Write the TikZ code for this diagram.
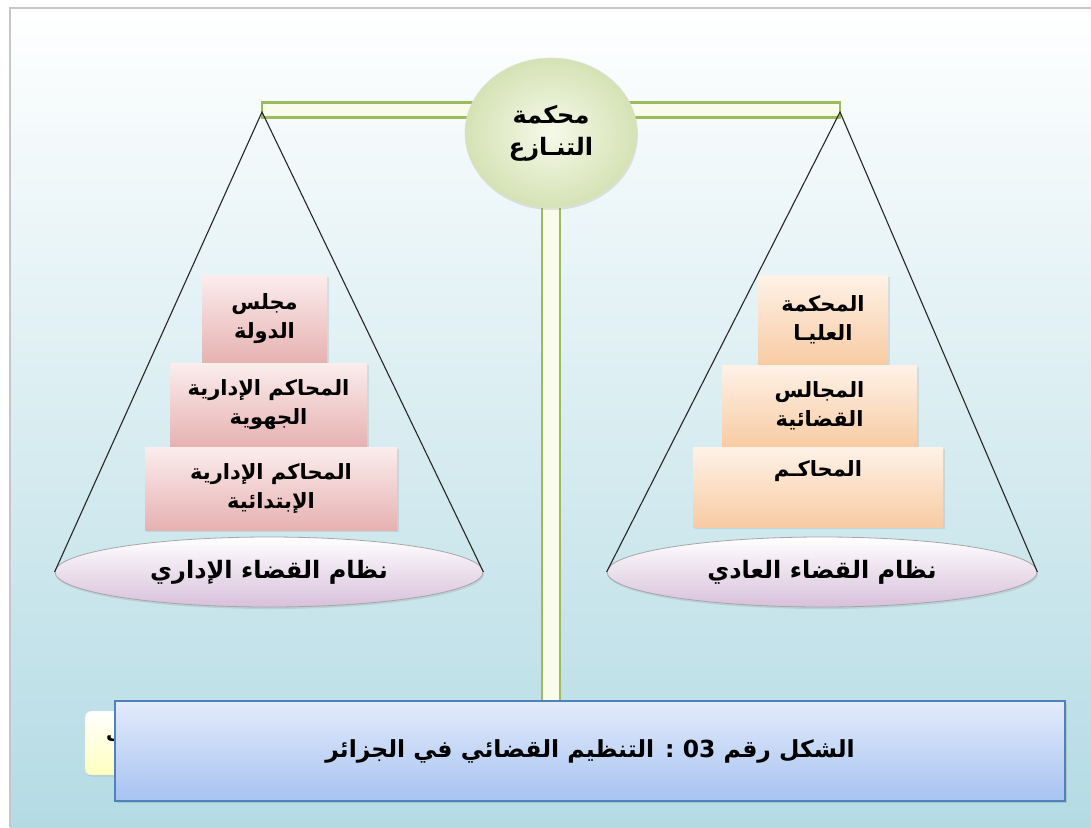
\documentclass[tikz,border=0pt]{standalone}
\usepackage{fontspec}
\usepackage{tikz}
\usetikzlibrary{shadows, shapes.geometric, positioning, calc}
\newfontfamily\arabicfont[Script=Arabic]{DejaVu Sans}
\TeXXeTstate=1
\newcommand{\artext}[1]{{\arabicfont\bfseries\beginR #1\endR}}
\definecolor{beamgreen}{HTML}{9CBB5C}
\definecolor{beamfill}{HTML}{FAFCEB}
\definecolor{skyend}{HTML}{B4DBE4}
\definecolor{skymid}{HTML}{E0F0F4}
\definecolor{rosetop}{HTML}{FBEDED}
\definecolor{rosebot}{HTML}{E7B1B1}
\definecolor{peachtop}{HTML}{FEF2E7}
\definecolor{peachbot}{HTML}{F8CBA3}
\definecolor{lilac}{HTML}{D8C0DB}
\definecolor{courtin}{HTML}{F6F9EA}
\definecolor{courtout}{HTML}{D5E2B4}
\definecolor{capblue}{HTML}{4F81BD}
\definecolor{captop}{HTML}{E3EBFB}
\definecolor{capbot}{HTML}{A7C3F1}

\begin{document}
\begin{tikzpicture}[
    x=1pt, y=-1pt,
    tier/.style={
      rectangle, inner sep=0pt, align=center,
      font=\fontsize{21}{29}\selectfont,
      drop shadow={shadow xshift=1.5pt, shadow yshift=-1.5pt, opacity=0.18}
    },
    rose/.style={tier, top color=rosetop, bottom color=rosebot},
    peach/.style={tier, top color=peachtop, bottom color=peachbot},
    base/.style={
      ellipse, inner sep=0pt, draw=gray!70, line width=0.8pt,
      top color=white, bottom color=lilac,
      minimum height=70, font=\fontsize{24}{28}\selectfont,
      drop shadow={shadow xshift=1pt, shadow yshift=-2pt, opacity=0.2}
    },
    bar/.style={rectangle, inner sep=0pt, draw=beamgreen, line width=2.6pt, fill=beamfill},
    wire/.style={black!85, line width=1.1pt}
  ]
  \useasboundingbox (0,0) rectangle (1091,827);
  \fill[white] (0,0) rectangle (1091,827);
  \shade[top color=white, middle color=skymid, bottom color=skyend] (10,8) rectangle (1091,827);
  \draw[gray!45, line width=1.6pt] (10,827) -- (10,8) -- (1091,8);

  \node[bar, minimum width=578, minimum height=15] (beam) at (551,110) {};
  \node[bar, minimum width=18, minimum height=500, anchor=north] (pole) at (551,200) {};

  \coordinate (adminapex) at (262,112);
  \coordinate (ordapex) at (840,112);

  \node[base, minimum width=428] (adminbase) at (269,572) {\artext{نظام القضاء الإداري}};
  \node[base, minimum width=430] (ordbase) at (822,572) {\artext{نظام القضاء العادي}};

  \draw[wire] (adminbase.west) -- (adminapex) -- (adminbase.east);
  \draw[wire] (ordbase.west) -- (ordapex) -- (ordbase.east);

  \node[rose, minimum width=125, minimum height=88] (council) at (264.5,319) {\artext{مجلس}\\\artext{الدولة}};
  \node[rose, minimum width=197, minimum height=84] (regional) at (268.5,405) {\artext{المحاكم الإدارية}\\\artext{الجهوية}};
  \node[rose, minimum width=252, minimum height=83] (firstinst) at (271,488.5) {\artext{المحاكم الإدارية}\\\artext{الإبتدائية}};

  \node[peach, minimum width=130, minimum height=90] (supreme) at (823,320) {\artext{المحكمة}\\\artext{العليـا}};
  \node[peach, minimum width=195, minimum height=82] (councils) at (819.5,406) {\artext{المجالس}\\\artext{القضائية}};
  \node[peach, minimum width=250, minimum height=80] (courts) at (818,487) {\artext{المحاكـم}\\\strut};

  \node[ellipse, inner sep=0pt, minimum width=172, minimum height=150,
    draw=courtout!80!black!40, line width=0.6pt, inner color=courtin, outer color=courtout,
    align=center, font=\fontsize{24}{32}\selectfont,
    drop shadow={shadow xshift=1pt, shadow yshift=-2pt, opacity=0.2}]
    (court) at (551,133) {\artext{محكمة}\\\artext{التنـازع}};

  \node[rectangle, rounded corners=6pt, minimum width=60, minimum height=64,
    top color=white, bottom color=yellow!25, draw=gray!25,
    drop shadow={shadow xshift=1pt, shadow yshift=-1.5pt, opacity=0.2}] (hidden) at (115,743) {};
  \node[anchor=west, inner sep=0pt, font=\fontsize{19}{24}\selectfont] (hiddentext) at (106,740) {\artext{ب}};

  \node[rectangle, inner sep=0pt, minimum width=950, minimum height=100,
    draw=capblue, line width=1.2pt, top color=captop, bottom color=capbot,
    font=\fontsize{23.5}{28}\selectfont,
    drop shadow={shadow xshift=2pt, shadow yshift=-2pt, opacity=0.25}]
    (caption) at (590,751) {\artext{الشكل رقم \beginL03\endL{} : التنظيم القضائي في الجزائر}};
\end{tikzpicture}
\end{document}
